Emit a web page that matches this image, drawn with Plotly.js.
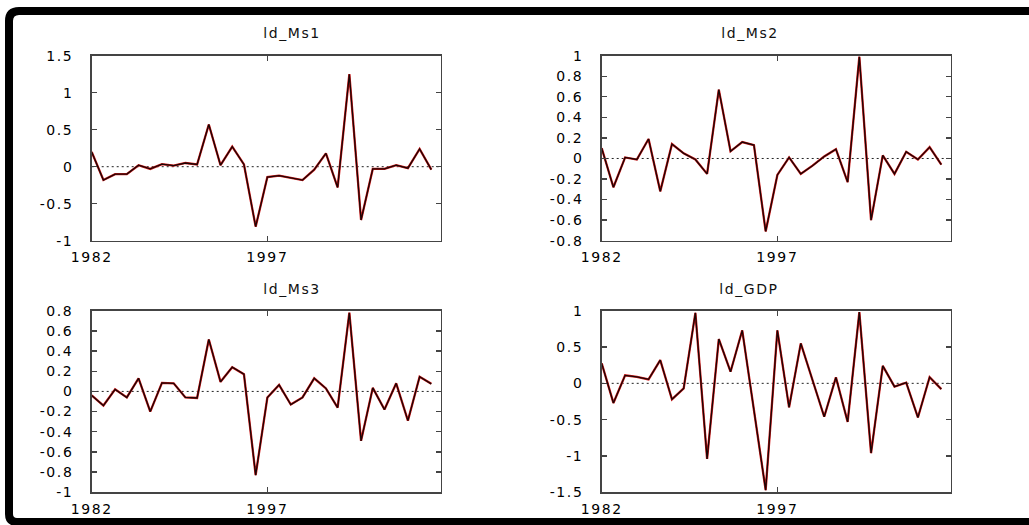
<!DOCTYPE html>
<html>
<head>
<meta charset="utf-8">
<script src="https://cdn.plot.ly/plotly-3.0.1.min.js"></script>
<style>
html,body{margin:0;padding:0;background:#fff;}
#chart{width:1029px;height:525px;}
#chart text{letter-spacing:1.6px;}
</style>
</head>
<body>
<div id="chart"></div>
<script>
// ---- data ----
var years = [1982,1983,1984,1985,1986,1987,1988,1989,1990,1991,1992,1993,1994,1995,1996,
             1997,1998,1999,2000,2001,2002,2003,2004,2005,2006,2007,2008,2009,2010,2011];

var ld_Ms1 = [0.20,-0.18,-0.10,-0.10,0.02,-0.03,0.035,0.015,0.05,0.03,0.57,0.02,0.27,0.03,-0.81,
              -0.14,-0.12,-0.15,-0.18,-0.04,0.18,-0.28,1.25,-0.72,-0.03,-0.03,0.02,-0.02,0.24,-0.04];
var ld_Ms2 = [0.10,-0.28,0.01,-0.01,0.19,-0.32,0.14,0.05,-0.01,-0.15,0.67,0.07,0.16,0.13,-0.71,
              -0.16,0.01,-0.15,-0.07,0.02,0.09,-0.23,0.99,-0.60,0.03,-0.15,0.065,-0.01,0.11,-0.06];
var ld_Ms3 = [-0.04,-0.14,0.02,-0.06,0.13,-0.20,0.085,0.08,-0.06,-0.065,0.515,0.095,0.24,0.17,-0.83,
              -0.06,0.065,-0.13,-0.06,0.13,0.03,-0.16,0.78,-0.49,0.035,-0.18,0.08,-0.29,0.145,0.075];
var ld_GDP = [0.275,-0.27,0.11,0.09,0.055,0.32,-0.22,-0.07,0.97,-1.04,0.61,0.16,0.73,-0.36,-1.47,
              0.73,-0.33,0.55,0.05,-0.46,0.083,-0.53,0.98,-0.96,0.24,-0.046,0.01,-0.47,0.085,-0.08];

var panelTitles = ["ld_Ms1","ld_Ms2","ld_Ms3","ld_GDP"];

var xTickVals = [1982,1997];
var xTickText = ["1982","1997"];

var yTickVals1 = [-1,-0.5,0,0.5,1,1.5];
var yTickText1 = ["-1","-0.5","0","0.5","1","1.5"];
var yTickVals2 = [-0.8,-0.6,-0.4,-0.2,0,0.2,0.4,0.6,0.8,1];
var yTickText2 = ["-0.8","-0.6","-0.4","-0.2","0","0.2","0.4","0.6","0.8","1"];
var yTickVals3 = [-1,-0.8,-0.6,-0.4,-0.2,0,0.2,0.4,0.6,0.8];
var yTickText3 = ["-1","-0.8","-0.6","-0.4","-0.2","0","0.2","0.4","0.6","0.8"];
var yTickVals4 = [-1.5,-1,-0.5,0,0.5,1];
var yTickText4 = ["-1.5","-1","-0.5","0","0.5","1"];

// ---- build ----
var W = 1029, H = 525;
function px(x){return x/W;}
function py(y){return 1-y/H;}

var series = [ld_Ms1, ld_Ms2, ld_Ms3, ld_GDP];
var axisIds = [["x","y"],["x2","y2"],["x3","y3"],["x4","y4"]];
var traces = [];
series.forEach(function(s,i){
  traces.push({x:years,y:s,xaxis:axisIds[i][0],yaxis:axisIds[i][1],type:"scatter",mode:"lines",
               line:{color:"#d01818",width:2.3},hoverinfo:"skip"});
  traces.push({x:years,y:s,xaxis:axisIds[i][0],yaxis:axisIds[i][1],type:"scatter",mode:"lines",
               line:{color:"#1a0505",width:1.3}});
});

var tickFont = {family:"DejaVu Sans", size:14, color:"#000"};
function xa(dom, anchor){
  return {domain:dom, anchor:anchor, range:[1982,2011.8], tickmode:"array",
    tickvals:xTickVals, ticktext:xTickText, ticks:"inside", ticklen:5, tickwidth:1.3,
    tickcolor:"#444", showline:true, linecolor:"#444", linewidth:1.5, mirror:"ticks",
    showgrid:false, zeroline:false, tickfont:tickFont, ticklabelstandoff:3, fixedrange:true};
}
function ya(dom, anchor, rng, vals, txt){
  return {domain:dom, anchor:anchor, range:rng, tickmode:"array",
    tickvals:vals, ticktext:txt, ticks:"inside", ticklen:5, tickwidth:1.3,
    tickcolor:"#444", showline:true, linecolor:"#444", linewidth:1.5, mirror:"ticks",
    showgrid:false, zeroline:false, tickfont:tickFont, ticklabelstandoff:14, fixedrange:true};
}

var xd1 = [px(91.7), px(440.7)], xd2 = [px(601.7), px(950.7)];
var ydT = [py(240.7), py(55.7)], ydB = [py(492.3), py(310.7)];

var shapes = [];
["x","x2","x3","x4"].forEach(function(xid,i){
  var yid = axisIds[i][1];
  shapes.push({type:"line", xref:xid+" domain", yref:yid, x0:0, x1:1, y0:0, y1:0,
    line:{color:"#222", width:1, dash:"2px,3px"}, layer:"below"});
});
// outer black frame
var fp = "M "+px(1045)+","+py(11)+" L "+px(19)+","+py(11)+
         " Q "+px(9)+","+py(11)+" "+px(9)+","+py(21)+
         " L "+px(9)+","+py(514)+
         " Q "+px(9)+","+py(522)+" "+px(17)+","+py(522)+
         " L "+px(1045)+","+py(522);
shapes.push({type:"path", xref:"paper", yref:"paper", path:fp, line:{color:"#000", width:8}});

var titleFont = {family:"DejaVu Sans", size:14, color:"#111"};
var annotations = [
  {text:panelTitles[0], x:(91.7+440.7)/2/W, y:py(33), xref:"paper", yref:"paper", showarrow:false, font:titleFont, yanchor:"middle"},
  {text:panelTitles[1], x:(601.7+950.7)/2/W, y:py(33), xref:"paper", yref:"paper", showarrow:false, font:titleFont, yanchor:"middle"},
  {text:panelTitles[2], x:(91.7+440.7)/2/W, y:py(289), xref:"paper", yref:"paper", showarrow:false, font:titleFont, yanchor:"middle"},
  {text:panelTitles[3], x:(601.7+950.7)/2/W, y:py(289), xref:"paper", yref:"paper", showarrow:false, font:titleFont, yanchor:"middle"}
];

var layout = {
  width:W, height:H, margin:{l:0,r:0,t:0,b:0},
  paper_bgcolor:"#fff", plot_bgcolor:"#fff", showlegend:false,
  xaxis: xa(xd1,"y"), yaxis: ya(ydT,"x",[-1,1.5],yTickVals1,yTickText1),
  xaxis2: xa(xd2,"y2"), yaxis2: ya(ydT,"x2",[-0.8,1],yTickVals2,yTickText2),
  xaxis3: xa(xd1,"y3"), yaxis3: ya(ydB,"x3",[-1,0.8],yTickVals3,yTickText3),
  xaxis4: xa(xd2,"y4"), yaxis4: ya(ydB,"x4",[-1.5,1],yTickVals4,yTickText4),
  shapes:shapes, annotations:annotations
};

Plotly.newPlot("chart", traces, layout, {displayModeBar:false, staticPlot:true});
</script>
</body>
</html>
